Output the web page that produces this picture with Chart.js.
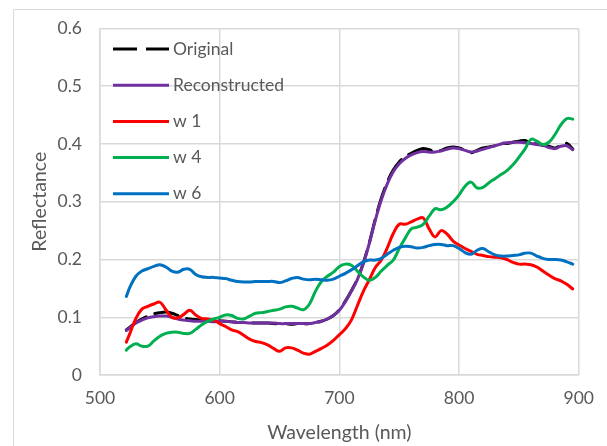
<!DOCTYPE html>
<html>
<head>
<meta charset="utf-8">
<title>Reflectance spectra</title>
<script src="https://cdn.jsdelivr.net/npm/chart.js@4.4.1/dist/chart.umd.min.js"></script>
<style>
  html, body { margin: 0; padding: 0; background: #ffffff; }
  #wrap { width: 607px; height: 446px; }
</style>
</head>
<body>
<div id="wrap"><canvas id="specChart" width="607" height="446"></canvas></div>
<script>
// wavelength samples (nm)
const wavelengths = [522, 525, 530, 535, 540, 545, 550, 555, 560, 565, 570, 575, 580, 585, 590, 595,
  600, 605, 610, 615, 620, 625, 630, 635, 640, 645, 650, 655, 660, 665, 670, 675, 680, 685, 690, 695,
  700, 705, 710, 715, 720, 725, 730, 735, 740, 745, 750, 755, 760, 765, 770, 775, 780, 785, 790, 795,
  800, 805, 810, 815, 820, 825, 830, 835, 840, 845, 850, 855, 860, 865, 870, 875, 880, 885, 890, 895];

const original = [0.078, 0.083, 0.091, 0.097, 0.102, 0.106, 0.108, 0.109, 0.107, 0.103, 0.099, 0.097, 0.096, 0.095, 0.095, 0.094,
  0.094, 0.093, 0.092, 0.091, 0.091, 0.090, 0.090, 0.090, 0.090, 0.089, 0.089, 0.089, 0.088, 0.089, 0.089, 0.089, 0.091, 0.093, 0.097, 0.103,
  0.113, 0.128, 0.146, 0.166, 0.194, 0.229, 0.270, 0.306, 0.334, 0.355, 0.369, 0.378, 0.384, 0.389, 0.392, 0.390, 0.387, 0.389, 0.393, 0.395,
  0.393, 0.389, 0.385, 0.389, 0.393, 0.395, 0.397, 0.401, 0.401, 0.403, 0.405, 0.406, 0.401, 0.400, 0.398, 0.396, 0.393, 0.398, 0.401, 0.391];

const reconstructed = [0.077, 0.082, 0.090, 0.095, 0.099, 0.101, 0.102, 0.102, 0.100, 0.097, 0.095, 0.094, 0.093, 0.093, 0.093, 0.092,
  0.093, 0.093, 0.092, 0.091, 0.091, 0.090, 0.090, 0.090, 0.090, 0.090, 0.089, 0.089, 0.089, 0.089, 0.089, 0.089, 0.091, 0.093, 0.097, 0.103,
  0.112, 0.127, 0.145, 0.165, 0.193, 0.228, 0.268, 0.303, 0.331, 0.352, 0.366, 0.375, 0.381, 0.385, 0.387, 0.386, 0.386, 0.388, 0.391, 0.393,
  0.392, 0.389, 0.386, 0.388, 0.391, 0.394, 0.397, 0.400, 0.402, 0.403, 0.403, 0.402, 0.401, 0.399, 0.398, 0.394, 0.392, 0.396, 0.397, 0.390];

const w1 = [0.057, 0.072, 0.098, 0.114, 0.119, 0.123, 0.126, 0.113, 0.100, 0.099, 0.105, 0.112, 0.104, 0.098, 0.097, 0.095,
  0.089, 0.084, 0.078, 0.075, 0.069, 0.062, 0.058, 0.056, 0.052, 0.046, 0.041, 0.047, 0.047, 0.043, 0.038, 0.036, 0.041, 0.046, 0.052, 0.060,
  0.070, 0.080, 0.095, 0.120, 0.145, 0.165, 0.186, 0.199, 0.220, 0.245, 0.261, 0.261, 0.265, 0.270, 0.272, 0.253, 0.239, 0.250, 0.244, 0.232,
  0.225, 0.219, 0.214, 0.209, 0.207, 0.205, 0.204, 0.203, 0.200, 0.195, 0.192, 0.192, 0.191, 0.187, 0.180, 0.173, 0.167, 0.163, 0.157, 0.149];

const w4 = [0.043, 0.049, 0.054, 0.050, 0.050, 0.059, 0.067, 0.072, 0.074, 0.074, 0.072, 0.072, 0.079, 0.087, 0.093, 0.097,
  0.100, 0.104, 0.103, 0.098, 0.097, 0.102, 0.107, 0.108, 0.110, 0.112, 0.114, 0.118, 0.119, 0.116, 0.113, 0.123, 0.145, 0.162, 0.171, 0.178,
  0.188, 0.192, 0.190, 0.180, 0.170, 0.164, 0.169, 0.180, 0.190, 0.199, 0.219, 0.237, 0.253, 0.256, 0.261, 0.275, 0.288, 0.286, 0.291, 0.300,
  0.312, 0.327, 0.334, 0.324, 0.325, 0.333, 0.340, 0.347, 0.354, 0.364, 0.377, 0.391, 0.408, 0.405, 0.399, 0.403, 0.416, 0.433, 0.444, 0.443];

const w6 = [0.136, 0.152, 0.171, 0.180, 0.184, 0.188, 0.191, 0.187, 0.180, 0.178, 0.183, 0.183, 0.174, 0.170, 0.169, 0.169,
  0.168, 0.167, 0.164, 0.162, 0.161, 0.161, 0.162, 0.162, 0.162, 0.162, 0.160, 0.163, 0.167, 0.169, 0.166, 0.165, 0.166, 0.165, 0.164, 0.166,
  0.171, 0.176, 0.182, 0.189, 0.196, 0.199, 0.199, 0.202, 0.209, 0.216, 0.221, 0.223, 0.222, 0.220, 0.221, 0.224, 0.226, 0.226, 0.224, 0.224,
  0.219, 0.212, 0.209, 0.216, 0.219, 0.213, 0.208, 0.206, 0.206, 0.207, 0.208, 0.211, 0.211, 0.206, 0.202, 0.200, 0.200, 0.199, 0.196, 0.192];

const xTicks = [500, 600, 700, 800, 900];
const yTicks = [0, 0.1, 0.2, 0.3, 0.4, 0.5, 0.6];

const FONT = 'Lato, "Open Sans", sans-serif';
const GREY_TEXT = '#595959';
const GRID = '#d9d9d9';
const LINE_W = 3;

function series(values) {
  return values.map((v, i) => ({ x: wavelengths[i], y: v }));
}

// outer chart frame (left and top edges)
const framePlugin = {
  id: 'frame',
  beforeDraw(chart) {
    const ctx = chart.ctx;
    ctx.save();
    ctx.strokeStyle = GRID;
    ctx.lineWidth = 1;
    ctx.beginPath();
    ctx.moveTo(13.5, chart.height);
    ctx.lineTo(13.5, 9.5);
    ctx.lineTo(chart.width, 9.5);
    ctx.stroke();
    ctx.restore();
  }
};

// legend drawn inside the plot, one entry per row
const insideLegend = {
  id: 'insideLegend',
  afterDraw(chart) {
    const ctx = chart.ctx;
    const area = chart.chartArea;
    ctx.save();
    ctx.font = '17.5px ' + FONT;
    ctx.textBaseline = 'middle';
    ctx.textAlign = 'left';
    chart.data.datasets.forEach((ds, i) => {
      const y = area.top + 20.5 + i * 36.2;
      const x0 = area.left + 13;
      ctx.beginPath();
      ctx.setLineDash(ds.borderDash || []);
      ctx.lineWidth = LINE_W;
      ctx.lineCap = 'butt';
      ctx.strokeStyle = ds.borderColor;
      ctx.moveTo(x0, y);
      ctx.lineTo(x0 + 56, y);
      ctx.stroke();
      ctx.setLineDash([]);
      ctx.fillStyle = GREY_TEXT;
      ctx.fillText(ds.label, x0 + 60, y);
    });
    ctx.restore();
  }
};

const ctx = document.getElementById('specChart').getContext('2d');
new Chart(ctx, {
  type: 'line',
  data: {
    datasets: [
      { label: 'Original', data: series(original), borderColor: '#000000', borderDash: [24, 9], order: 5 },
      { label: 'Reconstructed', data: series(reconstructed), borderColor: '#7030a0', order: 4 },
      { label: 'w 1', data: series(w1), borderColor: '#ff0000', order: 3 },
      { label: 'w 4', data: series(w4), borderColor: '#00b050', order: 2 },
      { label: 'w 6', data: series(w6), borderColor: '#0070c0', order: 1 }
    ]
  },
  options: {
    responsive: false,
    animation: false,
    devicePixelRatio: 1,
    layout: { padding: { left: 0, top: 25.2, right: 19.8, bottom: 0 } },
    elements: {
      point: { radius: 0 },
      line: { borderWidth: LINE_W, tension: 0.4, fill: false, borderCapStyle: 'round' }
    },
    plugins: {
      legend: { display: false },
      tooltip: { enabled: false }
    },
    scales: {
      x: {
        type: 'linear',
        min: 500,
        max: 900,
        afterFit: s => { s.height = 71; },
        afterBuildTicks: s => { s.ticks = xTicks.map(v => ({ value: v })); },
        ticks: { color: GREY_TEXT, font: { family: FONT, size: 17.5 }, padding: 13, maxRotation: 0 },
        grid: { color: GRID, lineWidth: 1.5, drawTicks: false },
        border: { color: GRID, width: 1.5 },
        title: { display: true, text: 'Wavelength (nm)', color: GREY_TEXT, font: { family: FONT, size: 19.5 }, padding: { top: 0, bottom: 2 } }
      },
      y: {
        min: 0,
        max: 0.6,
        afterFit: s => { s.width = 100; },
        afterBuildTicks: s => { s.ticks = yTicks.map(v => ({ value: v })); },
        ticks: {
          color: GREY_TEXT,
          font: { family: FONT, size: 17.5 },
          padding: 18,
          callback: v => (v === 0 ? '0' : v.toFixed(1))
        },
        grid: { color: GRID, lineWidth: 1.5, drawTicks: false },
        border: { color: GRID, width: 1.5 },
        title: { display: true, text: 'Reflectance', color: GREY_TEXT, font: { family: FONT, size: 19.5 }, padding: { top: 28, bottom: 0 } }
      }
    }
  },
  plugins: [framePlugin, insideLegend]
});
</script>
</body>
</html>
